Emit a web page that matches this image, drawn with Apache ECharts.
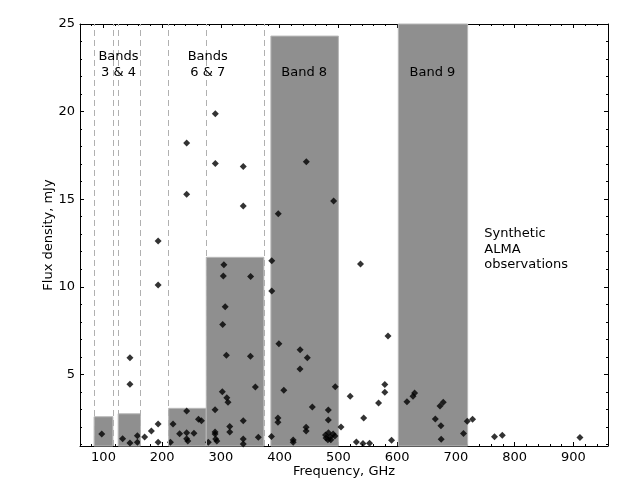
<!DOCTYPE html>
<html><head><meta charset="utf-8">
<script src="https://cdn.jsdelivr.net/npm/echarts@6/dist/echarts.min.js"></script>
<style>html,body{margin:0;padding:0;background:#fff}#c{width:640px;height:480px}</style>
</head><body><div id="c"></div>
<script>
// ALMA band coverage bars (GHz) and bar heights (mJy)
const bandLow  = [84, 125, 211, 275, 385, 602];
const bandHigh = [116, 163, 275, 373, 500, 720];
const bandFlux = [2.58, 2.75, 3.06, 11.68, 24.31, 26];
// dashed band-edge lines (GHz)
const bandEdges = [84, 116, 125, 163, 211, 275, 373];
// synthetic observations
const freq = [97, 132.6, 145, 145, 145, 157.7, 157.7, 170, 181.5, 193, 193, 193, 193, 214, 218.4, 229.6,
  241.6, 241.6, 241.6, 241.6, 241.6, 243.6, 254, 261.8, 266.8, 278.5, 290, 290, 290, 291, 293, 290.4, 290.4,
  305, 304, 307.2, 303, 309.2, 302.3, 310, 312, 315, 315, 338, 338, 338, 338, 338, 350.5, 350.2, 358.6, 363.6,
  386.5, 386.5, 386, 398.6, 397, 397, 407, 397.6, 423, 423, 434.8, 434.6, 447, 445, 445, 445.3, 455.6,
  482.8, 482.8, 494.6, 491.8, 478, 483, 479, 486, 491, 494, 487, 482,
  504.4, 520, 530.6, 537.6, 543, 541.8, 553, 568.4, 579, 579, 584.4, 590.5,
  616.7, 627, 629.7, 665, 673, 678.5, 674.6, 675, 713, 719.4, 728.4, 765.8, 779, 911.2];
const flux = [1.60, 1.33, 5.95, 4.43, 1.08, 1.50, 1.12, 1.43, 1.77, 12.61, 10.10, 2.17, 1.12, 1.12, 2.16, 1.61,
  18.21, 15.28, 2.91, 1.67, 1.33, 1.20, 1.64, 2.43, 2.35, 1.12, 2.98, 1.71, 1.59, 1.31, 1.20, 19.88, 17.03,
  11.25, 10.62, 8.86, 7.85, 6.09, 4.00, 3.66, 3.41, 2.02, 1.71, 16.86, 14.61, 2.35, 1.31, 1.02, 10.58, 6.03, 4.28, 1.41,
  11.49, 9.76, 1.45, 6.74, 2.51, 2.27, 4.09, 14.17, 1.25, 1.13, 6.41, 5.30, 5.95, 1.98, 1.77, 17.14, 3.14,
  2.97, 2.40, 4.29, 14.90, 1.54, 1.66, 1.37, 1.43, 1.60, 1.48, 1.26, 1.26,
  2.00, 3.75, 1.14, 11.30, 2.51, 1.05, 1.07, 3.36, 4.42, 3.98, 7.19, 1.24,
  3.43, 3.75, 3.94, 2.45, 3.20, 3.41, 2.07, 1.30, 1.62, 2.32, 2.44, 1.44, 1.52, 1.39];
// ticks
const xMajor = [100, 200, 300, 400, 500, 600, 700, 800, 900];
const xMinor = [80, 120, 140, 160, 180, 220, 240, 260, 280, 320, 340, 360, 380, 420, 440, 460, 480,
  520, 540, 560, 580, 620, 640, 660, 680, 720, 740, 760, 780, 820, 840, 860, 880, 920, 940];
const yMajor = [5, 10, 15, 20, 25];
const yMinor = [1, 2, 3, 4, 6, 7, 8, 9, 11, 12, 13, 14, 16, 17, 18, 19, 21, 22, 23, 24];
const X_MIN = 60, X_MAX = 959, Y_MIN = 0.91, Y_MAX = 25;

const FONT = 'DejaVu Sans';
const chart = echarts.init(document.getElementById('c'), null, {renderer: 'canvas'});

function xAx(pos, ticks, len, line, labels, extra) {
  return Object.assign({
    type: 'value', position: pos, min: X_MIN, max: X_MAX, gridIndex: 0,
    splitLine: {show: false},
    axisLine: {show: line, onZero: false, lineStyle: {color: '#000', width: 1}},
    axisTick: {show: true, inside: true, length: len, customValues: ticks, lineStyle: {color: '#000', width: 1}},
    axisLabel: labels ? {show: true, customValues: ticks, margin: 5, fontSize: 13, color: '#000', fontFamily: FONT} : {show: false}
  }, extra || {});
}
function yAx(pos, ticks, len, line, labels, extra) {
  return Object.assign({
    type: 'value', position: pos, min: Y_MIN, max: Y_MAX, gridIndex: 0,
    splitLine: {show: false},
    axisLine: {show: line, onZero: false, lineStyle: {color: '#000', width: 1}},
    axisTick: {show: true, inside: true, length: len, customValues: ticks, lineStyle: {color: '#000', width: 1}},
    axisLabel: labels ? {show: true, customValues: ticks, margin: 5, fontSize: 13, color: '#000', fontFamily: FONT} : {show: false}
  }, extra || {});
}

const option = {
  animation: false,
  backgroundColor: '#fff',
  grid: {left: 80, right: 32, top: 24, bottom: 34, containLabel: false, outerBoundsMode: 'none'},
  xAxis: [
    xAx('bottom', xMajor, 4, true, true, {name: 'Frequency, GHz', nameLocation: 'middle', nameGap: 19, nameMoveOverlap: false,
      nameTextStyle: {fontSize: 13, color: '#000', fontFamily: FONT}}),
    xAx('bottom', xMinor, 2, false, false),
    xAx('top', xMajor, 4, true, false),
    xAx('top', xMinor, 2, false, false)
  ],
  yAxis: [
    yAx('left', yMajor, 4, true, true, {name: 'Flux density, mJy', nameLocation: 'middle', nameGap: 25, nameMoveOverlap: false,
      nameTextStyle: {fontSize: 13, color: '#000', fontFamily: FONT}}),
    yAx('left', yMinor, 2, false, false),
    yAx('right', yMajor, 4, true, false),
    yAx('right', yMinor, 2, false, false)
  ],
  series: [
    {
      type: 'scatter', data: [], z: 1, silent: true,
      markLine: {
        silent: true, symbol: 'none', animation: false,
        label: {show: false},
        lineStyle: {type: [6, 4], color: '#b0b0b0', width: 1},
        data: bandEdges.map(v => ({xAxis: v}))
      }
    },
    {
      type: 'custom', z: 2, silent: true,
      data: bandLow.map((l, i) => [l, bandHigh[i], bandFlux[i]]),
      encode: {x: [0, 1], y: 2},
      renderItem: function (params, api) {
        const p0 = api.coord([api.value(0), api.value(2)]);
        const p1 = api.coord([api.value(1), Y_MIN]);
        const cs = params.coordSys;
        const r = echarts.graphic.clipRectByRect(
          {x: p0[0], y: p0[1], width: p1[0] - p0[0], height: p1[1] - p0[1]},
          {x: cs.x, y: cs.y, width: cs.width, height: cs.height});
        return r && {type: 'rect', shape: r, style: {fill: '#8f8f8f', stroke: '#b8b8b8', lineWidth: 1}};
      }
    },
    {
      type: 'scatter', z: 3, silent: true,
      symbol: 'diamond', symbolSize: [7, 7],
      itemStyle: {color: '#000'},
      data: freq.map((f, i) => [f, flux[i]])
    }
  ],
  graphic: [
    {type: 'text', z: 10, style: {text: 'Bands\n3 & 4', x: 118.5, y: 64.5, align: 'center', verticalAlign: 'middle', lineHeight: 15.6, font: '13px "DejaVu Sans"', fill: '#000'}},
    {type: 'text', z: 10, style: {text: 'Bands\n6 & 7', x: 207.7, y: 64.5, align: 'center', verticalAlign: 'middle', lineHeight: 15.6, font: '13px "DejaVu Sans"', fill: '#000'}},
    {type: 'text', z: 10, style: {text: 'Band 8', x: 304.2, y: 72.3, align: 'center', verticalAlign: 'middle', font: '13px "DejaVu Sans"', fill: '#000'}},
    {type: 'text', z: 10, style: {text: 'Band 9', x: 432.5, y: 72.3, align: 'center', verticalAlign: 'middle', font: '13px "DejaVu Sans"', fill: '#000'}},
    {type: 'text', z: 10, style: {text: 'Synthetic\nALMA\nobservations', x: 484.3, y: 249.2, align: 'left', verticalAlign: 'middle', lineHeight: 15.6, font: '13px "DejaVu Sans"', fill: '#000'}}
  ]
};
chart.setOption(option);
</script>
</body></html>
